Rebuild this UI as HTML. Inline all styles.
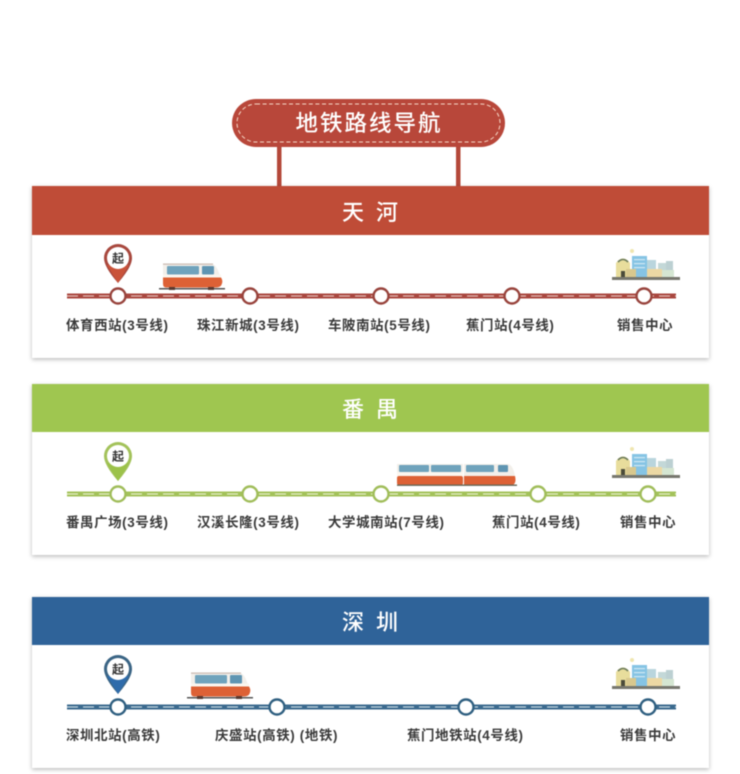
<!DOCTYPE html>
<html><head><meta charset="utf-8">
<style>
html,body{margin:0;padding:0;background:#fff;width:740px;height:774px;overflow:hidden}
svg{display:block;filter:blur(0.6px)}
text{font-family:"Liberation Sans","Noto Sans CJK SC",sans-serif}
.l{font-size:13.400px;fill:#3a3a3a;font-weight:700;letter-spacing:0.650px}
.h{font-size:22px;fill:#fff;font-weight:500;text-anchor:middle;letter-spacing:12px}
.q{font-size:12px;fill:#333;font-weight:700;text-anchor:middle}
</style></head><body>
<svg width="740" height="774" viewBox="0 0 740 774" xmlns="http://www.w3.org/2000/svg">
<defs>
<filter id="s" x="-3%" y="-5%" width="106%" height="112%"><feDropShadow dx="0" dy="1.5" stdDeviation="2" flood-color="#000" flood-opacity="0.28"/></filter>
<g id="car">
<path d="M0 0H48Q54 1 57 13H0Z" fill="#f2efea"/>
<rect x="0" y="0" width="50" height="1.200" fill="#c9b9b0"/>
<rect x="0" y="11" width="58" height="3.500" fill="#fbf6ef"/>
<path d="M0 14H58Q60 17 59 20Q58 24 53 24H3Q0 24 0 20Z" fill="#dd6135"/>
<rect x="4" y="2.500" width="32" height="8.500" rx="1" fill="#6fa3bc"/>
<rect x="39" y="2.500" width="12" height="8.500" rx="1" fill="#5f95b2"/>
<rect x="-4" y="24.500" width="66" height="1.500" fill="#555"/>
<rect x="6" y="23.500" width="6" height="3" fill="#5a3a30"/><rect x="45" y="23.500" width="6" height="3" fill="#5a3a30"/>
</g>
<g id="city">
<rect x="0" y="26" width="68" height="3" fill="#77776e"/>
<rect x="33" y="9" width="11" height="17" fill="#b9d5dd"/>
<rect x="46" y="12" width="9" height="14" fill="#c3d8d8"/>
<rect x="54" y="10" width="7" height="16" fill="#bcd0d2"/>
<rect x="20" y="5" width="15" height="21" fill="#86c4e4"/>
<g fill="#cfe8f3"><rect x="22" y="8" width="11" height="1.200"/><rect x="22" y="12" width="11" height="1.200"/><rect x="22" y="16" width="11" height="1.200"/></g>
<rect x="35" y="18" width="15" height="8" fill="#ecd8a4"/>
<rect x="50" y="19" width="12" height="7" fill="#d5e6d2"/>
<path d="M4 26V12Q11 3 18 12V26Z" fill="#e8dd9c"/>
<rect x="9" y="20" width="4" height="6" fill="#4b4b3a"/>
<path d="M6 11Q11 6 16 11" fill="none" stroke="#6a7a5a" stroke-width="1.600"/>
<rect x="14" y="18" width="10" height="8" fill="#d8c88e"/>
<circle cx="20" cy="0" r="2" fill="#f0e6b0"/>
</g>
</defs>
<rect width="740" height="774" fill="#fff"/>

<!-- sign -->
<rect x="277" y="145" width="4.500" height="42" fill="#b4483a"/>
<rect x="456" y="145" width="4.500" height="42" fill="#b4483a"/>
<rect x="232" y="99" width="273" height="48" rx="24" fill="#b8473a"/>
<rect x="237" y="104" width="263" height="38" rx="19" fill="none" stroke="#f6d9c8" stroke-width="1" stroke-dasharray="4 2.600"/>
<text x="369" y="131" font-size="22.500" fill="#fff" font-weight="500" text-anchor="middle" letter-spacing="2">地铁路线导航</text>

<!-- panel 1 -->
<rect x="32" y="186" width="677" height="172" fill="#fff" filter="url(#s)"/>
<rect x="32" y="186" width="677" height="49" fill="#bf4c37"/>
<text class="h" x="376" y="220">天河</text>
<rect x="67" y="293.500" width="609" height="5" fill="#a9473f"/>
<line x1="67" y1="296" x2="676" y2="296" stroke="#eccfc8" stroke-width="1.100" stroke-dasharray="11 5"/>
<g fill="#fff" stroke="#98433c" stroke-width="2.400">
<circle cx="118" cy="296" r="7.500"/><circle cx="250" cy="296" r="7.500"/><circle cx="381" cy="296" r="7.500"/><circle cx="512" cy="296" r="7.500"/><circle cx="644" cy="296" r="7.500"/>
</g>
<path d="M104 258A14 14 0 0 1 132 258Q132 267 118 283Q104 267 104 258Z" fill="#a8483e"/>
<path d="M107 265H129L118 283Z" fill="#c9533a"/>
<circle cx="118" cy="258" r="11" fill="#fff"/>
<text class="q" x="118" y="262.500">起</text>
<use href="#car" x="163" y="263.500"/>
<use href="#city" x="612" y="251"/>
<text class="l" x="66" y="330">体育西站(3号线)</text>
<text class="l" x="197" y="330">珠江新城(3号线)</text>
<text class="l" x="328" y="330">车陂南站(5号线)</text>
<text class="l" x="466" y="330">蕉门站(4号线)</text>
<text class="l" x="617" y="330">销售中心</text>

<!-- panel 2 -->
<rect x="32" y="384" width="677" height="171" fill="#fff" filter="url(#s)"/>
<rect x="32" y="384" width="677" height="48" fill="#9fc650"/>
<text class="h" x="376" y="417">番禺</text>
<rect x="67" y="491.500" width="609" height="5" fill="#a3c25a"/>
<line x1="67" y1="494" x2="676" y2="494" stroke="#eef4d8" stroke-width="1.100" stroke-dasharray="11 5"/>
<g fill="#fff" stroke="#a0bd5a" stroke-width="2.400">
<circle cx="118" cy="494" r="7.500"/><circle cx="250" cy="494" r="7.500"/><circle cx="381" cy="494" r="7.500"/><circle cx="538" cy="494" r="7.500"/><circle cx="648" cy="494" r="7.500"/>
</g>
<path d="M104 456A14 14 0 0 1 132 456Q132 465 118 481Q104 465 104 456Z" fill="#a3c25a"/>
<path d="M107 463H129L118 481Z" fill="#9cc24a"/>
<circle cx="118" cy="456" r="11" fill="#fff"/>
<text class="q" x="118" y="460.500">起</text>
<g>
<rect x="397" y="464" width="66" height="12" fill="#f2efea"/>
<rect x="397" y="472" width="66" height="4" fill="#fbf6ef"/>
<rect x="397" y="476" width="66" height="9" rx="2" fill="#dd6135"/>
<rect x="399" y="465" width="30" height="7" rx="1" fill="#6fa3bc"/><rect x="431" y="465" width="30" height="7" rx="1" fill="#6fa3bc"/>
<path d="M464 464H508Q513 465 515 476H464Z" fill="#f2efea"/>
<path d="M464 476H515Q517 485 511 485H464Z" fill="#dd6135"/>
<rect x="466" y="465" width="28" height="7" rx="1" fill="#6fa3bc"/><rect x="498" y="465" width="10" height="7" rx="1" fill="#5f95b2"/>
<rect x="397" y="484.500" width="120" height="1.400" fill="#665"/>
</g>
<use href="#city" x="612" y="449"/>
<text class="l" x="66" y="527">番禺广场(3号线)</text>
<text class="l" x="197" y="527">汉溪长隆(3号线)</text>
<text class="l" x="328" y="527">大学城南站(7号线)</text>
<text class="l" x="492" y="527">蕉门站(4号线)</text>
<text class="l" x="620" y="527">销售中心</text>

<!-- panel 3 -->
<rect x="32" y="597" width="677" height="171" fill="#fff" filter="url(#s)"/>
<rect x="32" y="597" width="677" height="48" fill="#2f6399"/>
<text class="h" x="376" y="630">深圳</text>
<rect x="67" y="704.500" width="609" height="5" fill="#3b6a8e"/>
<line x1="67" y1="707" x2="676" y2="707" stroke="#dbe7ee" stroke-width="1.100" stroke-dasharray="11 5"/>
<g fill="#fff" stroke="#2f5f80" stroke-width="2.400">
<circle cx="118" cy="707" r="7.500"/><circle cx="277" cy="707" r="7.500"/><circle cx="466" cy="707" r="7.500"/><circle cx="648" cy="707" r="7.500"/>
</g>
<path d="M104 669A14 14 0 0 1 132 669Q132 678 118 694Q104 678 104 669Z" fill="#3b6585"/>
<path d="M107 676H129L118 694Z" fill="#2f6cab"/>
<circle cx="118" cy="669" r="11" fill="#fff"/>
<text class="q" x="118" y="673.500">起</text>
<use href="#car" x="191" y="672.500"/>
<use href="#city" x="612" y="660"/>
<text class="l" x="66" y="740">深圳北站(高铁)</text>
<text class="l" x="215" y="740">庆盛站(高铁) (地铁)</text>
<text class="l" x="407" y="740">蕉门地铁站(4号线)</text>
<text class="l" x="620" y="740">销售中心</text>
</svg>
</body></html>
